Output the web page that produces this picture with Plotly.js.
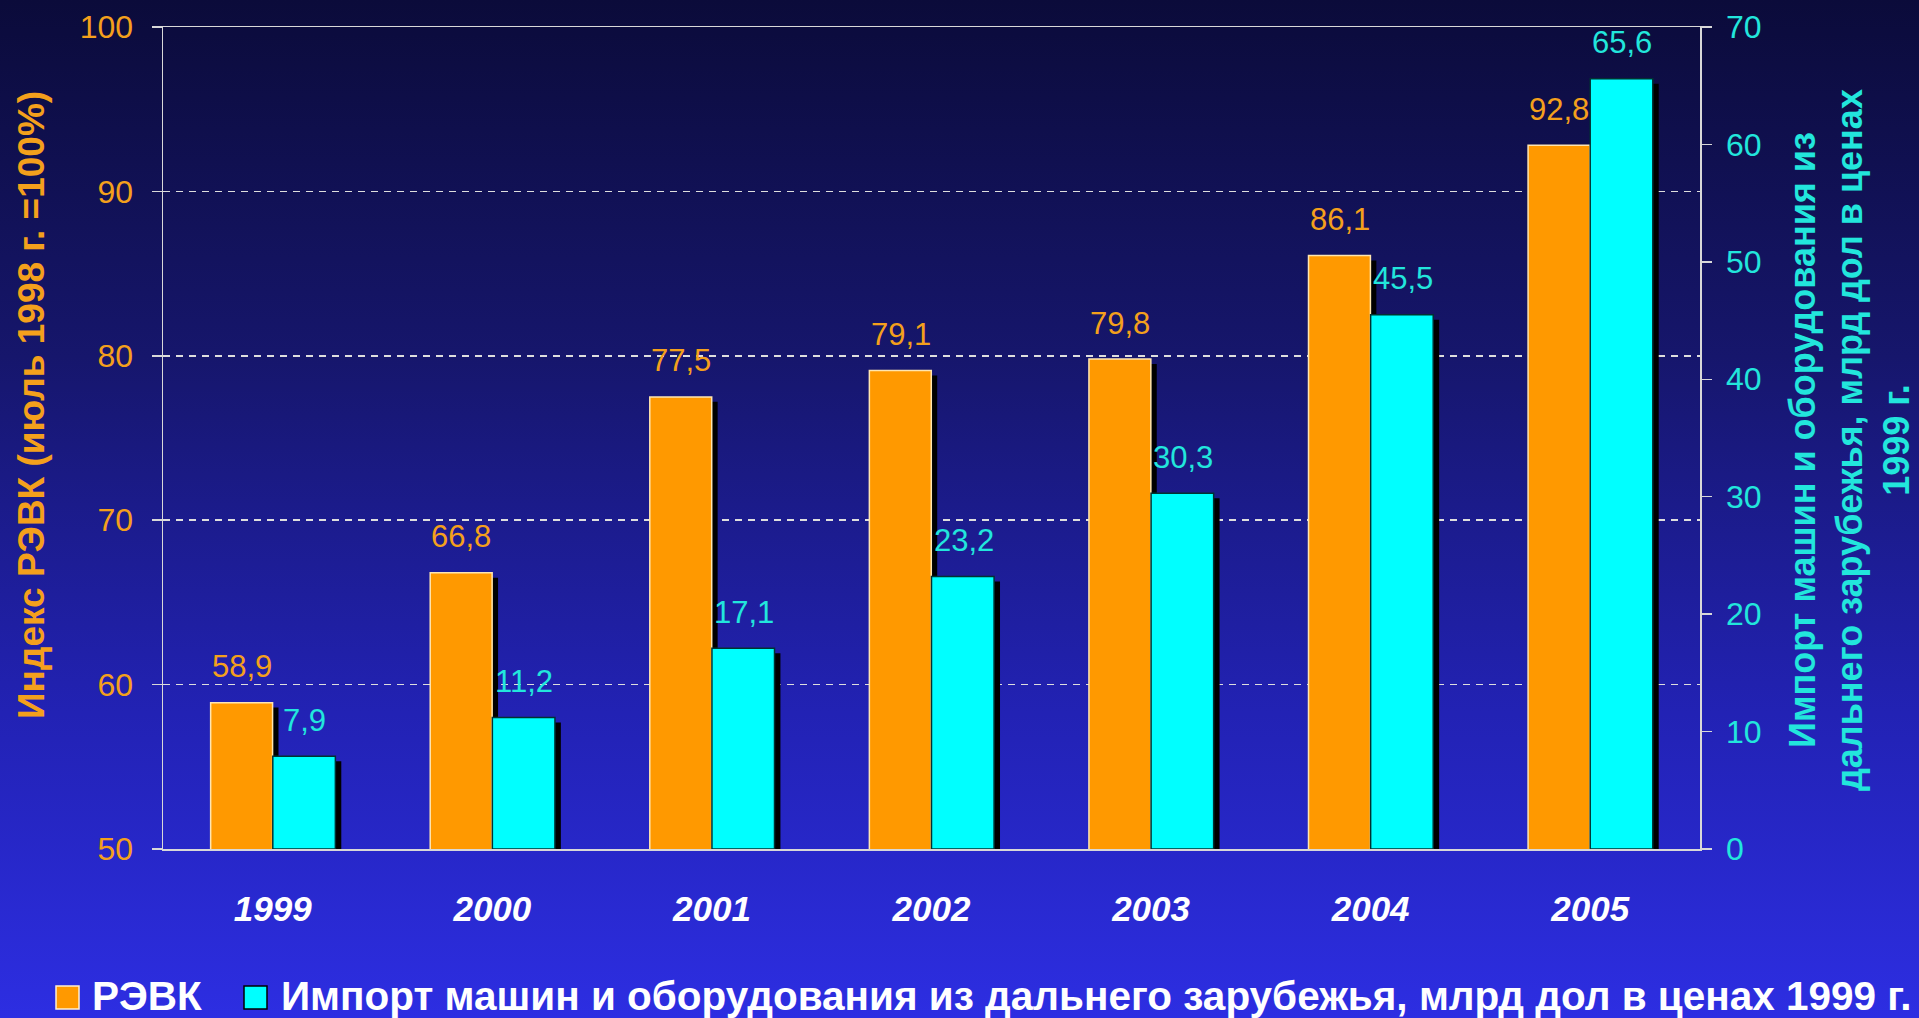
<!DOCTYPE html>
<html>
<head>
<meta charset="utf-8">
<script src="https://cdn.plot.ly/plotly-3.0.1.min.js"></script>
<style>
  html, body { margin: 0; padding: 0; width: 1919px; height: 1018px; overflow: hidden;
    background: linear-gradient(to bottom, #0b0b3a 0%, #16166c 35%, #2222b4 70%, #2d2ee2 100%); }
  #chart { width: 1919px; height: 1018px; }
</style>
</head>
<body>
<div id="chart"></div>
<script>
// ---- data ----
const categories = ['1999', '2000', '2001', '2002', '2003', '2004', '2005'];
const revkIndex = [58.9, 66.8, 77.5, 79.1, 79.8, 86.1, 92.8];
const importValues = [7.9, 11.2, 17.1, 23.2, 30.3, 45.5, 65.6];
const leftTickVals = [50, 60, 70, 80, 90, 100];
const rightTickVals = [0, 10, 20, 30, 40, 50, 60, 70];
const revkName = 'РЭВК';
const importName = 'Импорт машин и оборудования из дальнего зарубежья, млрд дол в ценах 1999 г.';
const leftTitle = 'Индекс РЭВК (июль 1998 г. =100%)';
const rightTitle = 'Импорт машин и оборудования из<br>дальнего зарубежья, млрд дол в ценах<br>1999 г.';

// ---- style ----
const ORANGE = '#FF9900';
const ORANGE_TXT = '#F4A01C';
const CYAN = '#00FFFF';
const CYAN_TXT = '#22E6DC';
const LINE = '#d8d8d8';
const FONT = 'Liberation Sans, Arial, sans-serif';
const fmt = v => v.toFixed(1).replace('.', ',');

// shadow: same bars drawn slightly right & lower (visual offset only)
const shadowLeft = revkIndex.map(v => v - 0.3);
const shadowRight = importValues.map(v => v - 0.43);

const traces = [
  { type: 'bar', x: categories, y: shadowLeft, yaxis: 'y', width: 0.282, offset: -0.283 + 0.027,
    marker: { color: '#000000', line: { width: 0 } }, showlegend: false, hoverinfo: 'skip' },
  { type: 'bar', name: revkName, x: categories, y: revkIndex, yaxis: 'y', width: 0.282, offset: -0.283,
    marker: { color: ORANGE, line: { color: '#FFE6B0', width: 1.5 } }, showlegend: false },
  { type: 'bar', x: categories, y: shadowRight, yaxis: 'y2', width: 0.285, offset: 0.0 + 0.027,
    marker: { color: '#000000', line: { width: 0 } }, showlegend: false, hoverinfo: 'skip' },
  { type: 'bar', name: importName, x: categories, y: importValues, yaxis: 'y2', width: 0.285, offset: 0.0,
    marker: { color: CYAN, line: { color: '#003333', width: 1.5 } }, showlegend: false }
];

const annotations = [];
categories.forEach((c, i) => {
  // x given as the category index (a string like '1999' would be read as a number)
  annotations.push({ x: i, y: revkIndex[i], xref: 'x', yref: 'y', text: fmt(revkIndex[i]),
    showarrow: false, xshift: -31, yshift: 36, font: { family: FONT, size: 31, color: ORANGE_TXT } });
  annotations.push({ x: i, y: importValues[i], xref: 'x', yref: 'y2', text: fmt(importValues[i]),
    showarrow: false, xshift: 32, yshift: 36, font: { family: FONT, size: 31, color: CYAN_TXT } });
});
// axis titles
annotations.push({ xref: 'paper', yref: 'paper', x: 31 / 1919, y: 1 - 405 / 1018, text: leftTitle,
  textangle: -90, showarrow: false, xanchor: 'center', yanchor: 'middle',
  font: { family: FONT, size: 37, color: ORANGE_TXT, weight: 'bold' } });
annotations.push({ xref: 'paper', yref: 'paper', x: 1849 / 1919, y: 1 - 440 / 1018, text: rightTitle,
  textangle: -90, showarrow: false, xanchor: 'center', yanchor: 'middle',
  font: { family: FONT, size: 36, color: CYAN_TXT, weight: 'bold' } });
// legend texts
annotations.push({ xref: 'paper', yref: 'paper', x: 90 / 1919, y: 1 - 996 / 1018, text: revkName,
  showarrow: false, xanchor: 'left', yanchor: 'middle',
  font: { family: FONT, size: 40.5, color: '#FFFFFF', weight: 'bold' } });
annotations.push({ xref: 'paper', yref: 'paper', x: 279 / 1919, y: 1 - 996 / 1018, text: importName,
  showarrow: false, xanchor: 'left', yanchor: 'middle',
  font: { family: FONT, size: 40.5, color: '#FFFFFF', weight: 'bold' } });

const shapes = [
  { type: 'rect', xref: 'paper', yref: 'paper', x0: 56 / 1919, x1: 79 / 1919, y0: 1 - 1009 / 1018, y1: 1 - 986 / 1018,
    fillcolor: ORANGE, line: { color: '#FFF0D0', width: 1.5 } },
  { type: 'rect', xref: 'paper', yref: 'paper', x0: 244 / 1919, x1: 267 / 1919, y0: 1 - 1009 / 1018, y1: 1 - 986 / 1018,
    fillcolor: CYAN, line: { color: '#000000', width: 1.5 } }
];

const layout = {
  width: 1919, height: 1018,
  margin: { l: 0, r: 0, t: 0, b: 0, pad: 0 },
  paper_bgcolor: 'rgba(0,0,0,0)',
  plot_bgcolor: 'rgba(0,0,0,0)',
  barmode: 'overlay',
  showlegend: false,
  xaxis: {
    domain: [163 / 1919, 1700 / 1919],
    type: 'category', categoryarray: categories, categoryorder: 'array',
    range: [-0.5, categories.length - 0.5], autorange: false,
    showline: true, mirror: true, linecolor: LINE, linewidth: 1.5,
    ticks: '', showgrid: false, zeroline: false,
    ticklabelstandoff: 28,
    tickfont: { family: FONT, size: 35, color: '#FFFFFF', weight: 'bold', style: 'italic' },
    automargin: false, fixedrange: true
  },
  yaxis: {
    domain: [1 - 849 / 1018, 1 - 27 / 1018],
    range: [50, 100], autorange: false, tickmode: 'array', tickvals: leftTickVals,
    showline: true, linecolor: LINE, linewidth: 1.5,
    ticks: 'outside', ticklen: 10, tickwidth: 1.5, tickcolor: LINE,
    showgrid: true, gridcolor: '#dedede', gridwidth: 1.5, griddash: '7px,6px',
    zeroline: false, ticklabelstandoff: 12,
    tickfont: { family: FONT, size: 32, color: ORANGE_TXT },
    automargin: false, fixedrange: true
  },
  yaxis2: {
    overlaying: 'y', side: 'right', anchor: 'x',
    range: [0, 70], autorange: false, tickmode: 'array', tickvals: rightTickVals,
    showline: true, linecolor: LINE, linewidth: 1.5,
    ticks: 'outside', ticklen: 10, tickwidth: 1.5, tickcolor: LINE,
    showgrid: false, zeroline: false, ticklabelstandoff: 8,
    tickfont: { family: FONT, size: 32, color: CYAN_TXT },
    automargin: false, fixedrange: true
  },
  annotations: annotations,
  shapes: shapes
};

Plotly.newPlot('chart', traces, layout, { displayModeBar: false, staticPlot: true });
</script>
</body>
</html>
